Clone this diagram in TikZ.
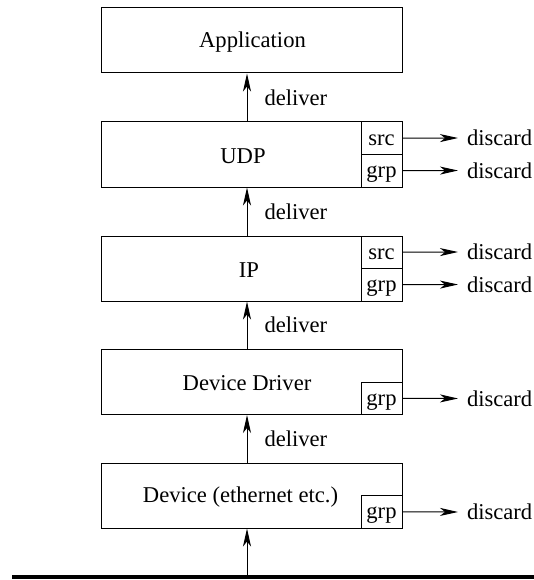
\documentclass[tikz,border=0pt]{standalone}
\usepackage{fontspec}
\setmainfont{Liberation Serif}
\newfontfamily\timesfont{Liberation Serif}
\usetikzlibrary{arrows.meta}
\begin{document}
\begin{tikzpicture}[x=1pt,y=-1pt,
  every node/.style={font=\timesfont\fontsize{22.6}{27}\selectfont},
  box/.style={draw, line width=1pt, minimum width=301pt, minimum height=65pt, inner sep=0pt},
  sub/.style={draw, line width=1pt, minimum width=41pt, minimum height=32.5pt, inner sep=0pt,
              text height=18pt, text depth=4pt},
  arr/.style={line width=1pt, -{Stealth[length=18pt,width=8pt,inset=5pt]}},
  disc/.style={anchor=west, inner xsep=0pt, inner ysep=0pt, outer xsep=9pt},
  lbl/.style={anchor=west, inner sep=0pt, xshift=17pt}]
\useasboundingbox (0,0) rectangle (534,580);

% main layer boxes
\node[box, label={[xshift=1pt, yshift=-1.5pt]center:Application}] (app) at (251.5,40.5) {};
\node[box, label={[xshift=-8.5pt, yshift=-1.5pt]center:UDP}] (udp) at (251.5,154.5) {};
\node[box, label={[xshift=-2.5pt, yshift=-1.5pt]center:IP}] (ip) at (251.5,268.5) {};
\node[box, label={[xshift=-4.5pt, yshift=-1.5pt]center:Device Driver}] (dd) at (251.5,382) {};
\node[box, label={[xshift=-11pt, yshift=-1.5pt]center:Device (ethernet etc.)}] (dev) at (251.5,495.5) {};

% filter sub-boxes
\node[sub, anchor=north east] (udpsrc) at (udp.north east) {src};
\node[sub, anchor=south east] (udpgrp) at (udp.south east) {grp};
\node[sub, anchor=north east] (ipsrc) at (ip.north east) {src};
\node[sub, anchor=south east] (ipgrp) at (ip.south east) {grp};
\node[sub, anchor=south east] (ddgrp) at (dd.south east) {grp};
\node[sub, anchor=south east] (devgrp) at (dev.south east) {grp};

% discard targets
\node[disc] (d1) at (458,138) {discard};
\node[disc] (d2) at (458,170.5) {discard};
\node[disc] (d3) at (458,252) {discard};
\node[disc] (d4) at (458,284.5) {discard};
\node[disc] (d5) at (458,398.5) {discard};
\node[disc] (d6) at (458,512) {discard};

\draw[arr] (udpsrc.east) -- (d1.west);
\draw[arr] (udpgrp.east) -- (d2.west);
\draw[arr] (ipsrc.east) -- (d3.west);
\draw[arr] (ipgrp.east) -- (d4.west);
\draw[arr] (ddgrp.east) -- (d5.west);
\draw[arr] (devgrp.east) -- (d6.west);

% network wire
\coordinate (wl) at (12,577);
\coordinate (wr) at (534,577);
\coordinate (feed) at (247,577);
\draw[line width=4pt] (wl) -- (wr);

% upward delivery arrows
\draw[arr] (feed) -- (dev.south -| feed);
\draw[arr] (dev.north -| feed) -- node[lbl] {deliver} (dd.south -| feed);
\draw[arr] (dd.north -| feed) -- node[lbl] {deliver} (ip.south -| feed);
\draw[arr] (ip.north -| feed) -- node[lbl] {deliver} (udp.south -| feed);
\draw[arr] (udp.north -| feed) -- node[lbl] {deliver} (app.south -| feed);
\end{tikzpicture}
\end{document}
